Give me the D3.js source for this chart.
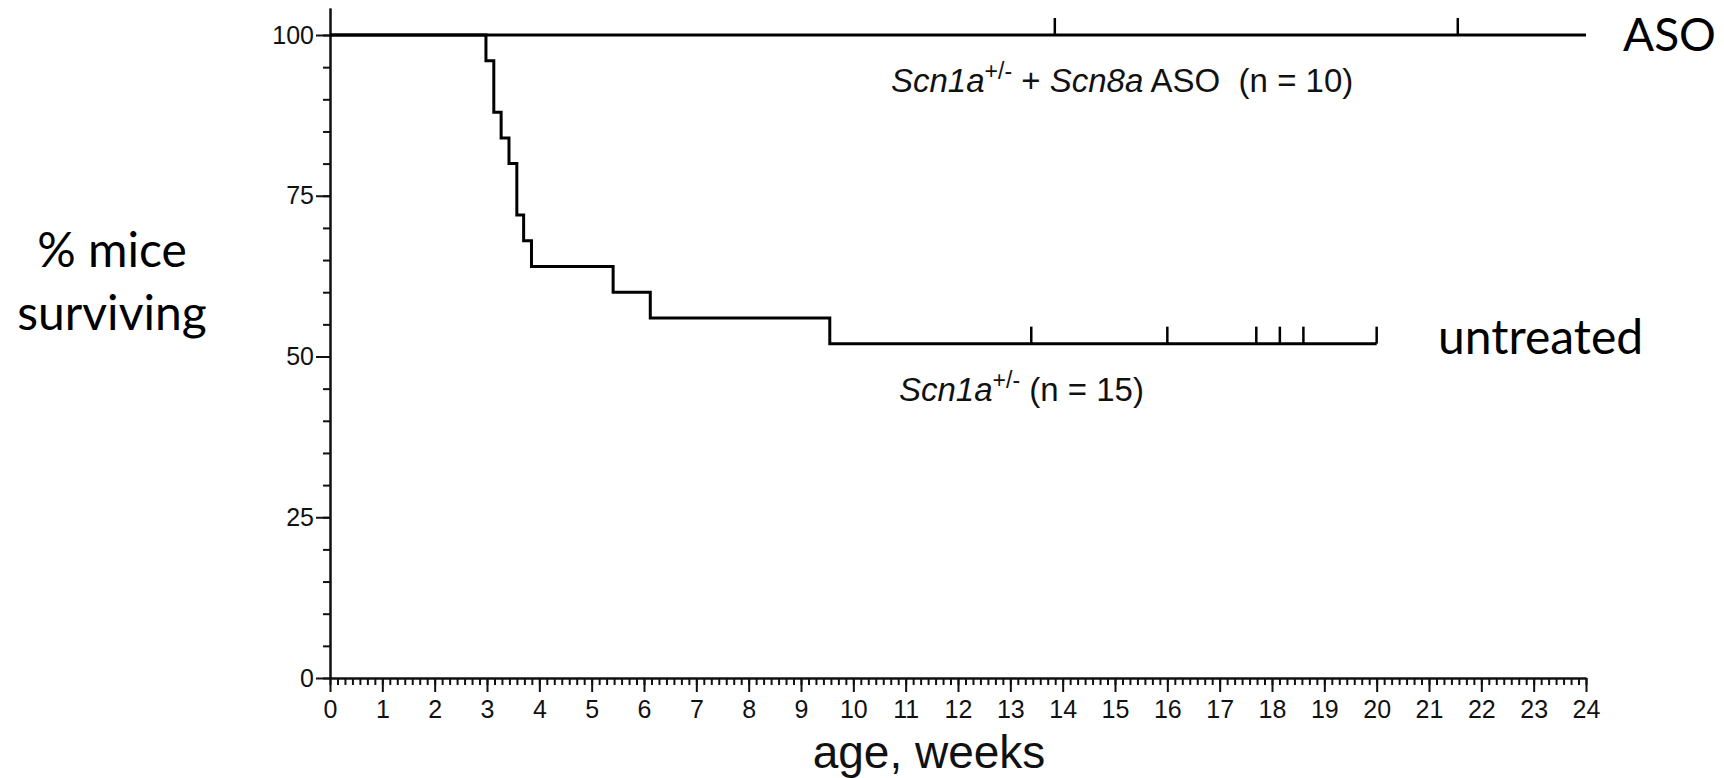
<!DOCTYPE html>
<meta charset="utf-8">
<style>
body { margin: 0; background: #fff; }
.axis path, .axis line { stroke: #111; stroke-width: 2px; }
.axis text { font-family: "Liberation Sans", Arial, sans-serif; font-size: 25px; fill: #111; }
.curve { fill: none; stroke: #000; stroke-width: 3px; }
.censor { stroke: #000; stroke-width: 2.5px; }
.lbl { font-family: "Liberation Sans", Arial, sans-serif; font-size: 33px; fill: #111; white-space: pre; }
.big { font-family: Lato, "Open Sans", sans-serif; font-size: 48px; fill: #000; }
</style>
<body>
<script src="https://d3js.org/d3.v7.min.js"></script>
<script>

// untreated Scn1a+/- : step times (weeks) and % surviving after each step
var untreatedWeeks = [0, 2.98, 3.13, 3.27, 3.42, 3.57, 3.70, 3.85, 5.41, 6.12, 9.55, 20.0];
var untreatedPct   = [100, 96, 88, 84, 80, 72, 68, 64, 60, 56, 52, 52];
var untreatedCensor = [13.4, 16.0, 17.7, 18.15, 18.6, 20.0];

// Scn1a+/- + Scn8a ASO
var asoWeeks = [0, 24];
var asoPct   = [100, 100];
var asoCensor = [13.85, 21.55];

var xTicks = d3.range(0, 25, 1);
var yTicks = [0, 25, 50, 75, 100];

var width = 1724, height = 778;

var svg = d3.select("body").append("svg")
    .attr("width", width)
    .attr("height", height);

var x = d3.scaleLinear().domain([0, 24]).range([330, 1586]);
var y = d3.scaleLinear().domain([0, 104.2]).range([678, 8]);

// minor ticks first (days on x, every 5 % on y)
svg.append("g")
    .attr("class", "axis")
    .attr("transform", "translate(0," + y(0) + ")")
    .call(d3.axisBottom(x).tickValues(d3.range(0, 24 * 7 + 1).map(function(d) { return d / 7; }))
      .tickSize(7).tickSizeOuter(0).tickFormat(""));

svg.append("g")
    .attr("class", "axis")
    .attr("transform", "translate(0," + y(0) + ")")
    .call(d3.axisBottom(x).tickValues(xTicks).tickSize(14).tickSizeOuter(0).tickPadding(5))
  .selectAll("text")
    .attr("dy", "0.85em");

svg.append("g")
    .attr("class", "axis")
    .attr("transform", "translate(" + x(0) + ",0)")
    .call(d3.axisLeft(y).tickValues(d3.range(0, 101, 5)).tickSize(7).tickSizeOuter(0).tickFormat(""));

svg.append("g")
    .attr("class", "axis")
    .attr("transform", "translate(" + x(0) + ",0)")
    .call(d3.axisLeft(y).tickValues(yTicks).tickSize(14).tickSizeOuter(0).tickPadding(2));

// survival curves
var line = d3.line()
    .x(function(d) { return x(d[0]); })
    .y(function(d) { return y(d[1]); })
    .curve(d3.curveStepAfter);

svg.append("path")
    .attr("class", "curve")
    .attr("d", line(d3.zip(asoWeeks, asoPct)));

svg.append("path")
    .attr("class", "curve")
    .attr("d", line(d3.zip(untreatedWeeks, untreatedPct)));

// censor marks
svg.selectAll(".c1")
    .data(untreatedCensor)
  .enter().append("line")
    .attr("class", "censor")
    .attr("x1", function(d) { return x(d); })
    .attr("x2", function(d) { return x(d); })
    .attr("y1", y(52))
    .attr("y2", y(52) - 17);

svg.selectAll(".c2")
    .data(asoCensor)
  .enter().append("line")
    .attr("class", "censor")
    .attr("x1", function(d) { return x(d); })
    .attr("x2", function(d) { return x(d); })
    .attr("y1", y(100))
    .attr("y2", y(100) - 17);

// curve labels
var l1 = svg.append("text").attr("class", "lbl").attr("x", 891).attr("y", 92);
l1.append("tspan").style("font-style", "italic").text("Scn1a");
l1.append("tspan").attr("font-size", "23px").attr("dy", "-13").text("+/-");
l1.append("tspan").attr("dy", "13").text(" + ");
l1.append("tspan").style("font-style", "italic").text("Scn8a");
l1.append("tspan").text(" ASO  (n = 10)");

var l2 = svg.append("text").attr("class", "lbl").attr("x", 899).attr("y", 401);
l2.append("tspan").style("font-style", "italic").text("Scn1a");
l2.append("tspan").attr("font-size", "23px").attr("dy", "-13").text("+/-");
l2.append("tspan").attr("dy", "13").text(" (n = 15)");

svg.append("text").attr("class", "big").attr("x", 1623).attr("y", 51).style("font-size", "46px").text("ASO");
svg.append("text").attr("class", "big").attr("x", 1438).attr("y", 354).text("untreated");

svg.append("text").attr("class", "big").attr("x", 112).attr("y", 267)
    .attr("text-anchor", "middle").text("% mice");
svg.append("text").attr("class", "big").attr("x", 112).attr("y", 330)
    .attr("text-anchor", "middle").text("surviving");

svg.append("text")
    .attr("x", 929)
    .attr("y", 768)
    .attr("text-anchor", "middle")
    .style("font-family", "Liberation Sans, Arial, sans-serif")
    .style("font-size", "46px")
    .style("fill", "#111")
    .text("age, weeks");

</script>
</body>
